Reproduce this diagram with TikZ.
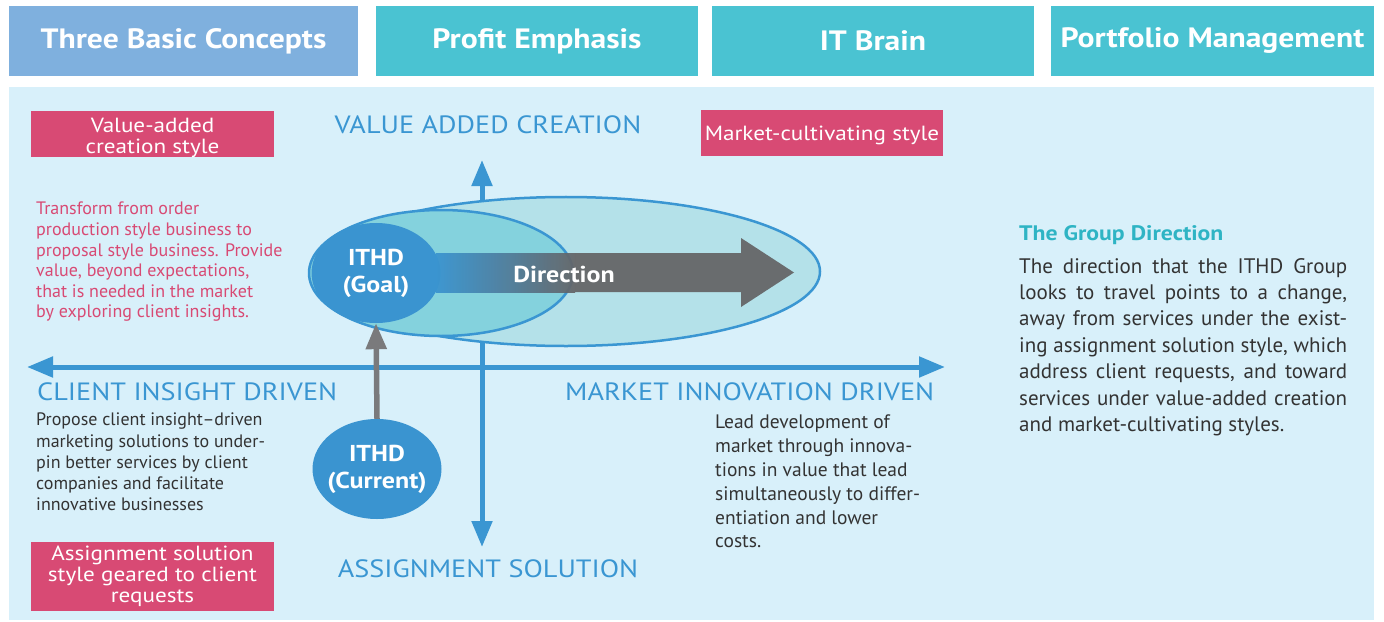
\documentclass[tikz,border=0pt]{standalone}
\usepackage{fontspec}
\setmainfont{PT Sans}
\newfontfamily\widefont[FakeStretch=1.13]{PT Sans}
\usetikzlibrary{positioning,shapes.geometric,arrows.meta}

\definecolor{headblue}{RGB}{127,176,222}
\definecolor{headteal}{RGB}{74,195,210}
\definecolor{panelbg}{RGB}{216,240,250}
\definecolor{tagpink}{RGB}{216,74,116}
\definecolor{axisblue}{RGB}{58,150,210}
\definecolor{wideteal}{RGB}{180,225,233}
\definecolor{midteal}{RGB}{132,210,221}
\definecolor{ithdblue}{RGB}{58,148,208}
\definecolor{dirgray}{RGB}{101,101,103}
\definecolor{upgray}{RGB}{122,122,124}
\definecolor{titleteal}{RGB}{46,180,196}
\definecolor{bodytext}{RGB}{51,51,51}

\begin{document}
\begin{tikzpicture}[x=1bp,y=-1bp,>={Triangle[length=26bp,width=20bp]},
    head node/.style={fill=#1,text=white,font=\widefont\bfseries\fontsize{28bp}{30bp}\selectfont,minimum height=70bp,inner sep=0pt},
    tag node/.style={fill=tagpink,inner sep=0pt,minimum width=243bp},
    tag text/.style={text=white,font=\widefont\fontsize{20.5bp}{21bp}\selectfont,align=center,inner sep=0pt},
    axis label/.style={text=axisblue,font=\widefont\fontsize{25bp}{27bp}\selectfont,inner sep=0pt},
    ithd node/.style={ellipse,fill=ithdblue,text=white,font=\widefont\bfseries\fontsize{23bp}{27bp}\selectfont,align=center,minimum width=129bp,minimum height=100bp,inner xsep=-6bp,inner ysep=0pt},
    field node/.style={ellipse,draw=axisblue,line width=2.5bp,fill=#1,inner sep=0pt},
    body text/.style={inner sep=0pt,anchor=north west,align=left,text=bodytext}]

    \useasboundingbox (0,0) rectangle (1384,622);

    % headers
    \node[head node=headblue,minimum width=349bp] (concepts) at (183.5,41) {Three Basic Concepts};
    \node[head node=headteal,minimum width=322bp] (profit) at (537,41) {Profit Emphasis};
    \node[head node=headteal,minimum width=322bp] (brain) at (873,41) {IT Brain};
    \node[head node=headteal,minimum width=323bp] (portfolio) at (1212.5,41) {Portfolio Management};

    \fill[panelbg] (9,87) rectangle (1374,620);

    % axes
    \coordinate (vtop) at (482,160);
    \coordinate (vbot) at (482,547);
    \coordinate (hleft) at (27,367);
    \coordinate (hright) at (945,367);
    \draw[<->,axisblue,line width=5bp] (vbot) -- (vtop);
    \draw[<->,axisblue,line width=5bp] (hleft) -- (hright);

    % ellipses
    \node[field node=wideteal,minimum width=508bp,minimum height=149bp] (wide) at (566,271.5) {};
    \node[field node=midteal,minimum width=264bp,minimum height=126bp] (mid) at (441,273) {};

    \node[ithd node] (goal) at (376,273) {ITHD\\(Goal)};
    \node[ithd node] (current) at (377,469) {ITHD\\(Current)};
    \draw[->,upgray,line width=5.5bp] (current.north) -- (goal.south);

    % direction arrow
    \shade[left color=ithdblue,right color=dirgray,fill opacity=0.94] (436,253) rectangle (575,292);
    \fill[dirgray,fill opacity=0.94] (575,253) -- (741,253) -- (741,238) -- (794,272.5) -- (741,307) -- (741,292) -- (575,292) -- cycle;
    \node[text=white,font=\widefont\bfseries\fontsize{23bp}{27bp}\selectfont] (direction) at (564,274) {Direction};

    % labels
    \node[axis label] (valuelabel) at (488,125) {VALUE ADDED CREATION};
    \node[axis label,anchor=west] (clientlabel) at (37,392) {CLIENT INSIGHT DRIVEN};
    \node[axis label,anchor=west] (marketlabel) at (565,392) {MARKET INNOVATION DRIVEN};
    \node[axis label] (assignlabel) at (488,569) {ASSIGNMENT SOLUTION};

    \node[tag node,minimum height=46bp] (valuetag) at (152.5,134) {};
    \node[tag text] (valuetagtext) at ([yshift=-4bp]valuetag.center) {Value-added\\creation style};
    \node[tag node,minimum width=242bp,minimum height=46bp] (markettag) at (822,133) {};
    \node[tag text] (markettagtext) at ([yshift=-2bp]markettag.center) {Market-cultivating style};
    \node[tag node,minimum height=69bp] (assigntag) at (152.5,576.5) {};
    \node[tag text] (assigntagtext) at (assigntag.center) {Assignment solution\\style geared to client\\requests};

    % paragraphs
    \node[body text,text=tagpink,font=\fontsize{18bp}{20.6bp}\selectfont] (valuetext) at (36,202)
        {Transform from order\\production style business to\\proposal style business. Provide\\value, beyond expectations,\\that is needed in the market\\by exploring client insights.};
    \node[body text,font=\fontsize{18bp}{21.2bp}\selectfont] (clienttext) at (36,413)
        {Propose client insight–driven\\marketing solutions to under-\\pin better services by client\\companies and facilitate\\innovative businesses};
    \node[body text,font=\fontsize{19.5bp}{23.8bp}\selectfont] (markettext) at (715,415)
        {Lead development of\\market through innova-\\tions in value that lead\\simultaneously to differ-\\entiation and lower\\costs.};
    \node[body text,text=titleteal,font=\widefont\bfseries\fontsize{21bp}{24bp}\selectfont] (grouptitle) at (1019,225) {The Group Direction};
    \node[body text,align=justify,text width=328bp,font=\fontsize{21bp}{26.4bp}\selectfont] (grouptext) at (1019,258)
        {The direction that the ITHD Group\linebreak looks to travel points to a change,\linebreak away from services under the exist-\linebreak ing assignment solution style, which\linebreak address client requests, and toward\linebreak services under value-added creation\linebreak and market-cultivating styles.};
\end{tikzpicture}
\end{document}
